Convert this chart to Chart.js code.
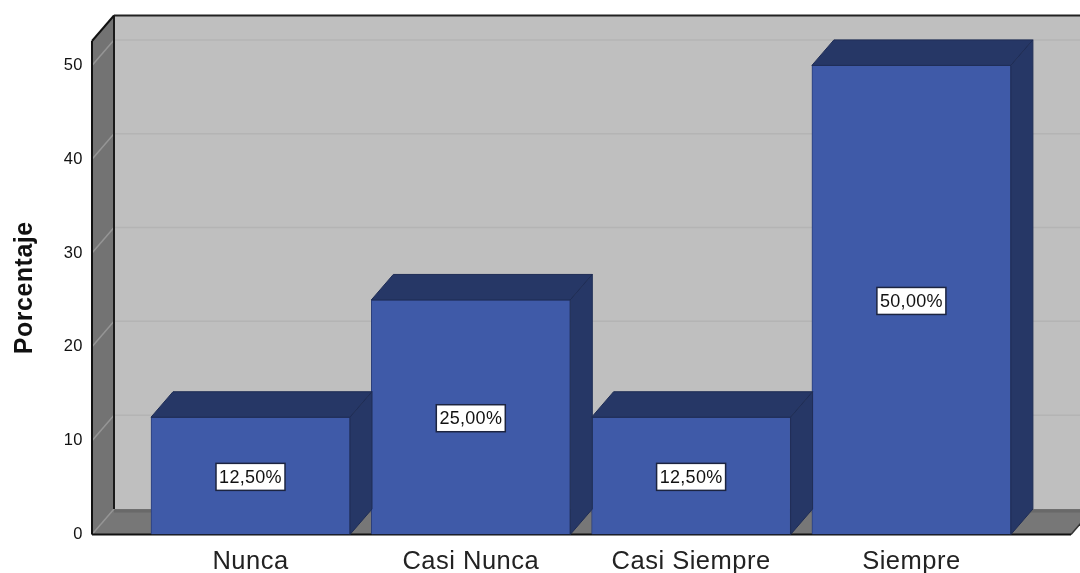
<!DOCTYPE html>
<html>
<head>
<meta charset="utf-8">
<script src="https://cdn.jsdelivr.net/npm/chart.js@4"></script>
<style>html,body{margin:0;padding:0;background:#fff;overflow:hidden}canvas{display:block}</style>
</head>
<body>
<canvas id="c" width="1080" height="573"></canvas>
<script>
const categories = ["Nunca", "Casi Nunca", "Casi Siempre", "Siempre"];
const percentages = [12.5, 25, 12.5, 50];
const valueLabels = ["12,50%", "25,00%", "12,50%", "50,00%"];
const yTicks = [0, 10, 20, 30, 40, 50];
const yTitle = "Porcentaje";

const DX = 22, DY = -25.5;
const FONT = '"Liberation Sans", Arial, sans-serif';

const poly = (ctx, pts, fill, stroke, lw) => {
  ctx.beginPath();
  pts.forEach((p, i) => i ? ctx.lineTo(p[0], p[1]) : ctx.moveTo(p[0], p[1]));
  ctx.closePath();
  if (fill) { ctx.fillStyle = fill; ctx.fill(); }
  if (stroke) { ctx.strokeStyle = stroke; ctx.lineWidth = lw || 1; ctx.stroke(); }
};
const line = (ctx, x1, y1, x2, y2, color, lw) => {
  ctx.beginPath(); ctx.moveTo(x1, y1); ctx.lineTo(x2, y2);
  ctx.strokeStyle = color; ctx.lineWidth = lw; ctx.stroke();
};

const box3d = {
  id: "box3d",
  beforeDraw(chart) {
    chart.ctx.letterSpacing = "0.5px";
  },
  beforeDatasetsDraw(chart) {
    const { ctx, chartArea: a, scales: { y } } = chart;
    const L = a.left, R = a.right, T = a.top, B = a.bottom;
    ctx.save();
    // back wall
    poly(ctx, [[L + DX, T + DY], [R + DX, T + DY], [R + DX, B + DY], [L + DX, B + DY]], "#bfbfbf");
    // floor
    poly(ctx, [[L, B], [L + DX, B + DY], [R + DX, B + DY], [R, B]], "#777777");
    line(ctx, L + DX, B + DY + 2, R + DX, B + DY + 2, "#696969", 3);
    // left wall
    poly(ctx, [[L, B], [L, T], [L + DX, T + DY], [L + DX, B + DY]], "#737373");
    // grid lines
    yTicks.forEach(v => {
      const py = y.getPixelForValue(v);
      line(ctx, L, py, L + DX, py + DY, "#959595", 1.5);
      if (v > 0) line(ctx, L + DX, py + DY, R + DX, py + DY, "#b4b4b4", 1.5);
    });
    // edges
    line(ctx, L + DX, T + DY, L + DX, B + DY, "#1a1a1a", 2);
    line(ctx, L + DX, T + DY, R + DX, T + DY, "#222222", 2);
    line(ctx, L, T, L + DX, T + DY, "#111111", 2);
    line(ctx, L, T, L, B, "#111111", 2);
    line(ctx, L, B, R, B, "#111111", 2);
    line(ctx, R, B, R + DX, B + DY, "#333333", 1.5);
    ctx.restore();
  },
  afterDatasetsDraw(chart) {
    const { ctx } = chart;
    const bars = chart.getDatasetMeta(0).data;
    ctx.save();
    bars.forEach((bar, i) => {
      const l = bar.x - bar.width / 2, r = bar.x + bar.width / 2, t = bar.y, b = bar.base;
      poly(ctx, [[l, t], [l + DX, t + DY], [r + DX, t + DY], [r, t]], "#263766", "#1f2d55", 1);
      poly(ctx, [[r, t], [r + DX, t + DY], [r + DX, b + DY], [r, b]], "#263766", "#1f2d55", 1);
      const cy = (t + b) / 2 + 1;
      const w = 69, h = 27;
      ctx.fillStyle = "#ffffff";
      ctx.strokeStyle = "#1c2440";
      ctx.lineWidth = 1.5;
      ctx.fillRect(bar.x - w / 2, cy - h / 2, w, h);
      ctx.strokeRect(bar.x - w / 2, cy - h / 2, w, h);
      ctx.fillStyle = "#111111";
      ctx.font = "18px " + FONT;
      ctx.letterSpacing = "0.3px";
      ctx.textAlign = "center";
      ctx.textBaseline = "middle";
      ctx.fillText(valueLabels[i], bar.x, cy + 1);
    });
    ctx.restore();
  }
};

new Chart(document.getElementById("c"), {
  type: "bar",
  data: {
    datasets: [{
      label: yTitle,
      data: percentages.map((v, i) => ({ x: i, y: v })),
      backgroundColor: "#3f5aa8",
      borderColor: "#2c3f7a",
      borderWidth: 1,
      barThickness: 199
    }]
  },
  options: {
    responsive: false,
    animation: false,
    layout: { padding: { left: 0, right: 9, top: 41, bottom: 0 } },
    plugins: { legend: { display: false }, tooltip: { enabled: false } },
    scales: {
      x: {
        type: "linear",
        offset: false,
        min: -0.7195,
        max: 3.7245,
        grid: { display: false },
        border: { display: false },
        afterBuildTicks(s) { s.ticks = categories.map((_, i) => ({ value: i })); },
        ticks: {
          autoSkip: false,
          maxRotation: 0,
          padding: 4,
          color: "#222222",
          font: { family: FONT, size: 25.5 },
          callback: v => categories[v]
        },
        afterFit(s) { s.height = 38.5; }
      },
      y: {
        min: 0,
        max: 52.6,
        afterBuildTicks(s) { s.ticks = yTicks.map(v => ({ value: v })); },
        grid: { display: false },
        border: { display: false },
        ticks: { padding: 1, color: "#111111", font: { family: FONT, size: 16.5 } },
        title: {
          display: true,
          text: yTitle,
          color: "#111111",
          padding: { top: 10, bottom: 0 },
          font: { family: FONT, size: 25, weight: "bold" }
        },
        afterFit(s) { s.width = 92; }
      }
    }
  },
  plugins: [box3d]
});
</script>
</body>
</html>
